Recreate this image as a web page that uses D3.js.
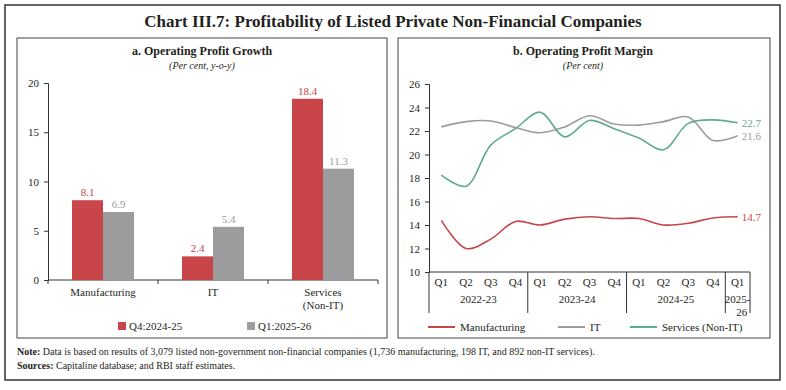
<!DOCTYPE html>
<html>
<head>
<meta charset="utf-8">
<script src="https://cdn.jsdelivr.net/npm/d3@7"></script>
<style>
  body { margin: 0; background: #fff; }
  text { font-family: "Liberation Serif", "DejaVu Serif", serif; }
</style>
</head>
<body>
<div id="chart"></div>
<script>
// panel a
const sectors = ["Manufacturing", "IT", "Services (Non-IT)"];
const barSeries = ["Q4:2024-25", "Q1:2025-26"];
const growthQ4 = [8.1, 2.4, 18.4];
const growthQ1 = [6.9, 5.4, 11.3];
const growthTicks = [0, 5, 10, 15, 20];

// panel b
const quarters = ["Q1", "Q2", "Q3", "Q4", "Q1", "Q2", "Q3", "Q4", "Q1", "Q2", "Q3", "Q4", "Q1"];
const years = ["2022-23", "2023-24", "2024-25", "2025-26"];
const marginMfg = [14.4, 12.0, 12.8, 14.3, 14.0, 14.5, 14.7, 14.55, 14.55, 14.0, 14.15, 14.6, 14.7];
const marginIT = [22.35, 22.8, 22.85, 22.3, 21.85, 22.35, 23.3, 22.6, 22.5, 22.8, 23.2, 21.2, 21.6];
const marginSvc = [18.25, 17.3, 20.8, 22.2, 23.6, 21.5, 22.9, 22.2, 21.4, 20.4, 22.65, 22.95, 22.7];
const marginTicks = [10, 12, 14, 16, 18, 20, 22, 24, 26];

const RED = "#c8464a", GREY = "#9c9c9f", GREEN = "#5fac8e", TXT = "#231f20";

const W = 786, H = 390;
const svg = d3.select("#chart").append("svg")
    .attr("width", W).attr("height", H);

// outer frame
svg.append("rect").attr("x", 5).attr("y", 5).attr("width", 775).attr("height", 375)
    .attr("fill", "none").attr("stroke", "#333").attr("stroke-width", 1.5);

svg.append("text").attr("x", 393).attr("y", 27).attr("text-anchor", "middle")
    .attr("font-size", 17).attr("font-weight", "bold").attr("fill", TXT)
    .text("Chart III.7: Profitability of Listed Private Non-Financial Companies");

// panel frames
[[17, 370], [398, 372]].forEach(([x, w]) => {
    svg.append("rect").attr("x", x).attr("y", 38).attr("width", w).attr("height", 300)
        .attr("fill", "none").attr("stroke", "#444").attr("stroke-width", 1);
});

function panelTitle(cx, title, sub) {
    svg.append("text").attr("x", cx).attr("y", 55).attr("text-anchor", "middle")
        .attr("font-size", 12).attr("font-weight", "bold").attr("fill", TXT).text(title);
    svg.append("text").attr("x", cx).attr("y", 69).attr("text-anchor", "middle")
        .attr("font-size", 10).attr("font-style", "italic").attr("fill", TXT).text(sub);
}
panelTitle(202, "a. Operating Profit Growth", "(Per cent, y-o-y)");
panelTitle(583, "b. Operating Profit Margin", "(Per cent)");

// ---------- panel a : bars ----------
const a = svg.append("g");
const x0 = d3.scaleBand().domain(sectors).range([48, 378]);
const x1 = d3.scaleBand().domain(barSeries).range([24, 86]);
const ya = d3.scaleLinear().domain([0, 20]).range([280, 83]);

a.append("g").attr("transform", "translate(48,0)")
    .call(d3.axisLeft(ya).tickValues(growthTicks).tickSize(4).tickPadding(5))
    .call(g => g.selectAll("text").attr("font-size", 11).attr("fill", TXT)
        .style("font-family", "'Liberation Serif', serif"))
    .call(g => g.selectAll("line,path").attr("stroke", "#333"));

a.append("line").attr("x1", 48).attr("x2", 378).attr("y1", ya(0)).attr("y2", ya(0))
    .attr("stroke", "#333");
a.selectAll(".sep").data(sectors.concat([null])).join("line")
    .attr("x1", (d, i) => 48 + i * x0.bandwidth()).attr("x2", (d, i) => 48 + i * x0.bandwidth())
    .attr("y1", ya(0)).attr("y2", ya(0) + 4).attr("stroke", "#333");

const barData = [];
sectors.forEach((s, i) => {
    barData.push({ s, k: barSeries[0], v: growthQ4[i], c: RED });
    barData.push({ s, k: barSeries[1], v: growthQ1[i], c: GREY });
});
a.selectAll(".bar").data(barData).join("rect")
    .attr("x", d => x0(d.s) + x1(d.k)).attr("width", x1.bandwidth())
    .attr("y", d => ya(d.v)).attr("height", d => ya(0) - ya(d.v))
    .attr("fill", d => d.c);
a.selectAll(".val").data(barData).join("text")
    .attr("x", d => x0(d.s) + x1(d.k) + x1.bandwidth() / 2)
    .attr("y", d => ya(d.v) - 4).attr("text-anchor", "middle")
    .attr("font-size", 11).attr("fill", d => d.c).text(d => d.v.toFixed(1));

const catLines = { "Services (Non-IT)": ["Services", "(Non-IT)"] };
sectors.forEach(s => {
    const lines = catLines[s] || [s];
    lines.forEach((t, j) => {
        a.append("text").attr("x", x0(s) + x0.bandwidth() / 2).attr("y", 296 + j * 12.5)
            .attr("text-anchor", "middle").attr("font-size", 11).attr("fill", TXT).text(t);
    });
});

[[118, RED, barSeries[0]], [247, GREY, barSeries[1]]].forEach(([x, c, t]) => {
    a.append("rect").attr("x", x).attr("y", 322).attr("width", 8).attr("height", 8).attr("fill", c);
    a.append("text").attr("x", x + 11).attr("y", 330).attr("font-size", 11).attr("fill", TXT).text(t);
});

// ---------- panel b : lines ----------
const b = svg.append("g");
const xb = d3.scaleBand().domain(d3.range(quarters.length)).range([429, 750]);
const yb = d3.scaleLinear().domain([10, 26]).range([272, 84]);

b.append("g").attr("transform", "translate(429,0)")
    .call(d3.axisLeft(yb).tickValues(marginTicks).tickSize(4).tickPadding(5))
    .call(g => g.selectAll("text").attr("font-size", 11).attr("fill", TXT)
        .style("font-family", "'Liberation Serif', serif"))
    .call(g => g.selectAll("line,path").attr("stroke", "#333"));

b.append("line").attr("x1", 429).attr("x2", 750).attr("y1", yb(10)).attr("y2", yb(10))
    .attr("stroke", "#333");

// year group separators (4 quarters each, last group one quarter)
const groupStarts = [0, 4, 8, 12, 13];
groupStarts.forEach(i => {
    const gx = i < quarters.length ? xb(i) : 750;
    b.append("line").attr("x1", gx).attr("x2", gx).attr("y1", yb(10)).attr("y2", 313)
        .attr("stroke", "#333");
});
b.selectAll(".q").data(quarters).join("text")
    .attr("x", (d, i) => xb(i) + xb.bandwidth() / 2).attr("y", 286)
    .attr("text-anchor", "middle").attr("font-size", 11).attr("fill", TXT).text(d => d);
years.forEach((yr, j) => {
    const s = groupStarts[j], e = groupStarts[j + 1];
    const cx = (xb(s) + (e < quarters.length ? xb(e) : 750)) / 2;
    if (j < 3) {
        b.append("text").attr("x", cx).attr("y", 303).attr("text-anchor", "middle")
            .attr("font-size", 11).attr("fill", TXT).text(yr);
    } else {
        b.append("text").attr("x", cx).attr("y", 303).attr("text-anchor", "middle")
            .attr("font-size", 11).attr("fill", TXT).text(yr.slice(0, 5));
        b.append("text").attr("x", cx + 4).attr("y", 316).attr("text-anchor", "middle")
            .attr("font-size", 11).attr("fill", TXT).text(yr.slice(5));
    }
});

const line = d3.line()
    .x((d, i) => xb(i) + xb.bandwidth() / 2)
    .y(d => yb(d))
    .curve(d3.curveCatmullRom.alpha(0.5));

const lineSeries = [
    { name: "Manufacturing", vals: marginMfg, c: RED },
    { name: "IT", vals: marginIT, c: GREY },
    { name: "Services (Non-IT)", vals: marginSvc, c: GREEN }
];
b.selectAll(".ln").data(lineSeries).join("path")
    .attr("fill", "none").attr("stroke", d => d.c).attr("stroke-width", 1.6)
    .attr("d", d => line(d.vals));

b.selectAll(".end").data(lineSeries).join("text")
    .attr("x", xb(quarters.length - 1) + xb.bandwidth() / 2 + 4)
    .attr("y", d => yb(d.vals[d.vals.length - 1]) + 4)
    .attr("font-size", 11).attr("fill", d => d.c)
    .text(d => d.vals[d.vals.length - 1].toFixed(1));

[[428, 0], [558, 1], [630, 2]].forEach(([x, i]) => {
    const s = lineSeries[i];
    b.append("line").attr("x1", x).attr("x2", x + 27).attr("y1", 327).attr("y2", 327)
        .attr("stroke", s.c).attr("stroke-width", 2);
    b.append("text").attr("x", x + 32).attr("y", 331).attr("font-size", 11).attr("fill", TXT).text(s.name);
});

// notes
const note = svg.append("text").attr("x", 17).attr("y", 355).attr("font-size", 10).attr("fill", TXT);
note.append("tspan").attr("font-weight", "bold").text("Note: ");
note.append("tspan").text("Data is based on results of 3,079 listed non-government non-financial companies (1,736 manufacturing, 198 IT, and 892 non-IT services).");
const src = svg.append("text").attr("x", 17).attr("y", 369).attr("font-size", 10).attr("fill", TXT);
src.append("tspan").attr("font-weight", "bold").text("Sources: ");
src.append("tspan").text("Capitaline database; and RBI staff estimates.");
</script>
</body>
</html>
